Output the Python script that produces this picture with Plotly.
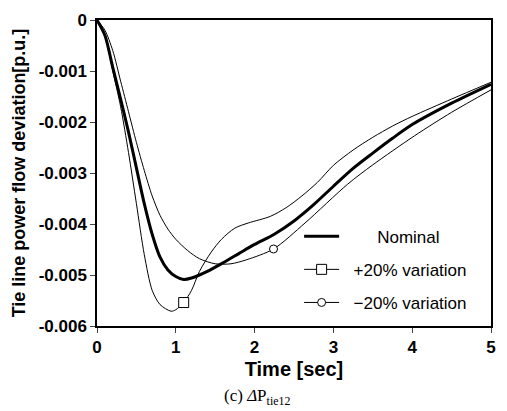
import plotly.graph_objects as go

# Nominal response
nom_t = [0, 0.1, 0.2, 0.3, 0.4, 0.5, 0.6, 0.7, 0.8, 0.9, 1.0, 1.1, 1.2, 1.4, 1.6, 1.8, 2.0, 2.25, 2.5, 2.75, 3.0,
         3.25, 3.5, 3.75, 4.0, 4.5, 5.0]
nom_y = [0, -0.0003, -0.00093, -0.00155, -0.0022, -0.0029, -0.0036, -0.0042, -0.00465, -0.0049, -0.00503, -0.00509,
         -0.00506, -0.00493, -0.00476, -0.00458, -0.0044, -0.0042, -0.00394, -0.00362, -0.00326, -0.00291,
         -0.00261, -0.00232, -0.00205, -0.00163, -0.00126]

# +20% variation
plus_t = [0, 0.1, 0.2, 0.3, 0.4, 0.5, 0.6, 0.7, 0.8, 0.94, 1.0, 1.1, 1.2, 1.3, 1.45, 1.58, 1.75, 1.92, 2.2, 2.4,
          2.6, 2.8, 3.0, 3.25, 3.5, 3.75, 4.0, 4.5, 5.0]
plus_y = [0, -0.0003, -0.001, -0.0017, -0.0026, -0.0036, -0.0046, -0.0053, -0.00558, -0.00571, -0.00568, -0.00554,
          -0.0053, -0.00493, -0.00455, -0.0043, -0.00408, -0.00398, -0.00385, -0.00368, -0.00345, -0.00318,
          -0.00285, -0.00255, -0.0023, -0.00208, -0.00189, -0.00155, -0.00122]
plus_mark = 11  # index of the square marker

# -20% variation
minus_t = [0, 0.1, 0.2, 0.3, 0.4, 0.5, 0.6, 0.7, 0.8, 0.9, 1.0, 1.15, 1.3, 1.5, 1.7, 1.9, 2.24, 2.64, 3.18, 3.5,
           4.03, 4.5, 5.0]
minus_y = [0, -0.0002, -0.0006, -0.0012, -0.0018, -0.0024, -0.00295, -0.00345, -0.00383, -0.0041, -0.0043, -0.00452,
           -0.00468, -0.00478, -0.00478, -0.0047, -0.00449, -0.00398, -0.00322, -0.00284, -0.00227, -0.00181,
           -0.00137]
minus_mark = 16  # index of the circle marker

x_ticks = [0, 1, 2, 3, 4, 5]
y_ticks = [0, -0.001, -0.002, -0.003, -0.004, -0.005, -0.006]
y_ticktext = ["0", "-0.001", "-0.002", "-0.003", "-0.004", "-0.005", "-0.006"]

SANS = "Liberation Sans, Arial, sans-serif"
NB = "\u00a0"

fig = go.Figure()
fig.add_trace(go.Scatter(x=nom_t, y=nom_y, mode="lines",
                         line=dict(color="black", width=3, shape="spline", smoothing=0.8),
                         name=NB * 7 + "Nominal", legendgroup="a"))
fig.add_trace(go.Scatter(x=plus_t, y=plus_y, mode="lines",
                         line=dict(color="black", width=1, shape="spline", smoothing=0.8),
                         showlegend=False))
fig.add_trace(go.Scatter(x=minus_t, y=minus_y, mode="lines",
                         line=dict(color="black", width=1, shape="spline", smoothing=0.8),
                         showlegend=False))
fig.add_trace(go.Scatter(x=[plus_t[plus_mark]], y=[plus_y[plus_mark]], mode="lines+markers",
                         line=dict(color="black", width=1),
                         marker=dict(symbol="square", size=10, color="white", line=dict(width=1, color="black")),
                         name=NB * 2 + "+20% variation", legendgroup="b"))
fig.add_trace(go.Scatter(x=[minus_t[minus_mark]], y=[minus_y[minus_mark]], mode="lines+markers",
                         line=dict(color="black", width=1),
                         marker=dict(symbol="circle", size=8, color="white", line=dict(width=1, color="black")),
                         name=NB * 2 + "\u221220% variation", legendgroup="c"))

fig.update_layout(
    width=507, height=411,
    margin=dict(l=97, r=12, t=11, b=85),
    paper_bgcolor="white", plot_bgcolor="white",
    font=dict(family=SANS, color="black"),
    showlegend=True,
    legend=dict(x=0.513, y=0.184, xanchor="left", yanchor="middle", bgcolor="rgba(0,0,0,0)",
                font=dict(size=17, family=SANS), traceorder="grouped", tracegroupgap=8,
                itemwidth=35),
    xaxis=dict(range=[0, 5], tickvals=x_ticks, ticks="outside", ticklen=5, showline=True, linecolor="black",
               linewidth=1.5, mirror=True, showgrid=False, zeroline=False,
               tickfont=dict(size=17, family=SANS, weight="bold"),
               title=dict(text="<b>Time [sec]</b>", font=dict(size=20, family=SANS), standoff=6)),
    yaxis=dict(range=[-0.006, 0], tickvals=y_ticks, ticktext=y_ticktext, ticks="outside", ticklen=5,
               showline=True, linecolor="black", linewidth=1.5, mirror=True, showgrid=False, zeroline=False,
               tickfont=dict(size=17, family=SANS, weight="bold"),
               title=dict(text="<b>Tie line power flow deviation[p.u.]</b>", font=dict(size=18, family=SANS),
                          standoff=8)),
    annotations=[dict(text="(c) <i>\u0394</i>P<sub>tie12</sub>", xref="paper", yref="paper", x=0.405, y=-0.19,
                      xanchor="center", yanchor="top", showarrow=False,
                      font=dict(size=17, family="Liberation Serif, DejaVu Serif, serif"))],
)

fig.write_html("out.html")
